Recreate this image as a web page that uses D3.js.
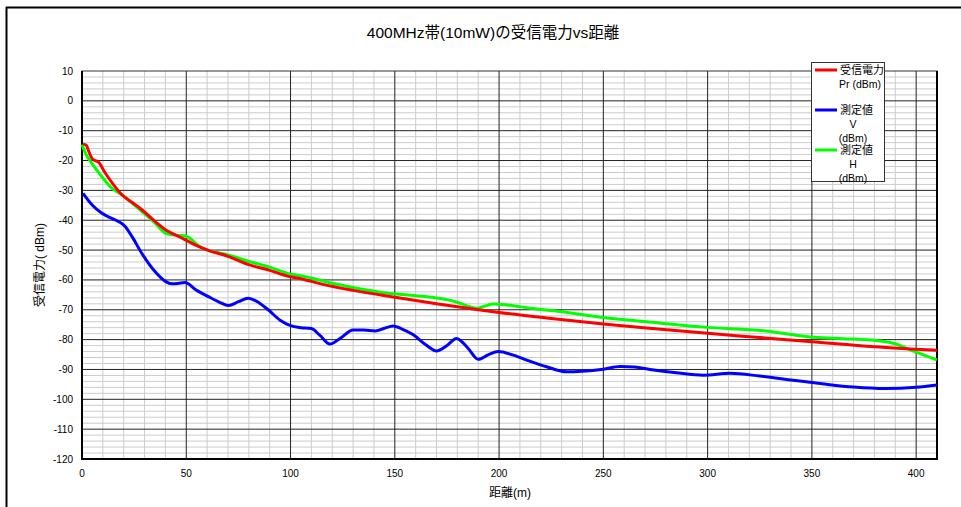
<!DOCTYPE html>
<html>
<head>
<meta charset="utf-8">
<script src="https://cdn.jsdelivr.net/npm/d3@7"></script>
<style>
  body { margin: 0; background: #fff; }
  text { font-family: "Liberation Sans", Arial, "Noto Sans CJK JP", sans-serif; fill: #000; }
</style>
</head>
<body>
<svg width="961" height="507"></svg>
<script>
const svg = d3.select("svg"),
      width = +svg.attr("width"),
      height = +svg.attr("height");

// distance (m) / level (dBm) pairs
const prDist = [0.5, 2, 3, 5, 8, 11, 15, 19, 24, 28.6, 35, 41, 45, 49.4, 55, 60.6, 70, 80, 90, 99, 105, 115, 130, 150, 170, 190, 200, 225, 250, 272, 300, 325, 350, 380, 400, 410];
const prVal  = [-14.5, -14.8, -16.5, -19.5, -20.6, -24, -28, -31.4, -34, -36.4, -40.4, -43.6, -45, -46.5, -48.5, -50.1, -52.1, -54.9, -56.8, -58.8, -59.6, -61.4, -63.5, -65.8, -68, -70, -70.9, -72.9, -74.8, -76.2, -77.9, -79.3, -80.7, -82.4, -83.2, -83.6];

const vDist = [0.5, 5, 9.4, 14, 17.4, 20.6, 24, 28.6, 35, 40, 43, 46, 49.4, 55, 60.6, 66, 70.2, 75, 79.7, 85, 89.3, 95, 100, 105, 110, 114, 118.9, 124, 130, 135, 140.7, 145, 149.3, 153, 158.9, 165, 170, 175, 179.6, 185, 190, 195, 199.6, 206.8, 215, 222.8, 232.4, 240, 250, 258, 265, 272.4, 285, 298, 310.9, 325, 341, 355, 370, 385, 400, 410];
const vVal  = [-31, -35, -37.6, -39.3, -40.4, -42, -45.5, -51, -57.2, -60.5, -61.3, -61.2, -60.9, -63.5, -65.6, -67.5, -68.6, -67.3, -66.1, -67.7, -70, -73.5, -75.3, -76, -76.3, -78.5, -81.5, -79.5, -76.8, -76.8, -77.1, -76.2, -75.4, -76.3, -78.4, -81.8, -83.8, -82, -79.6, -82.8, -86.6, -85, -84, -85.2, -87.3, -89.1, -90.8, -90.6, -89.9, -89, -89.2, -90, -91.1, -91.9, -91.3, -92.2, -93.6, -94.8, -95.9, -96.4, -96, -95.2];

const hDist = [0, 2, 4.6, 9.4, 14.2, 19, 24, 28.6, 35, 40, 45, 49.4, 52.6, 56, 60.6, 70, 80, 90, 99, 105, 120, 135, 146, 160, 168.7, 175, 181.3, 186, 189.3, 193, 197.3, 203.7, 215, 229.3, 250, 272, 300, 328, 341, 351, 365, 378, 389, 400, 410];
const hVal  = [-14.6, -18, -20.8, -25.3, -29.2, -31.4, -34.3, -37, -40.9, -44.3, -45, -45.2, -46.5, -48.6, -50.1, -51.6, -53.8, -55.7, -57.9, -58.6, -61.1, -63.2, -64.4, -65.3, -65.9, -66.6, -67.8, -69, -69.5, -68.8, -68.1, -68.4, -69.5, -70.6, -72.6, -74.1, -75.9, -77.1, -78.4, -79.2, -79.7, -80.1, -81.2, -84.2, -86.8];

const seriesNames = ["受信電力", "測定値", "測定値"];
const seriesSub = [["Pr (dBm)"], ["V", "(dBm)"], ["H", "(dBm)"]];
const seriesColors = ["#ff0000", "#0000ff", "#00ff00"];

const xTicks = [0, 50, 100, 150, 200, 250, 300, 350, 400];
const yTicks = [10, 0, -10, -20, -30, -40, -50, -60, -70, -80, -90, -100, -110, -120];

const pLeft = 82, pRight = 937, pTop = 71, pBottom = 459;

const x = d3.scaleLinear().domain([0, 410]).range([pLeft, pRight]);
const y = d3.scaleLinear().domain([-120, 10]).range([pBottom, pTop]);

// outer chart frame (only left and top show)
svg.append("line").attr("x1", 6.5).attr("x2", 6.5).attr("y1", 7).attr("y2", height)
  .attr("stroke", "#000").attr("stroke-width", 2);
svg.append("line").attr("x1", 6).attr("x2", width).attr("y1", 7.5).attr("y2", 7.5)
  .attr("stroke", "#000").attr("stroke-width", 2);

// minor grid
const g = svg.append("g");
g.selectAll(".vminor").data(d3.range(10, 410, 10).filter(d => d % 50))
  .enter().append("line")
  .attr("x1", d => x(d)).attr("x2", d => x(d)).attr("y1", pTop).attr("y2", pBottom)
  .attr("stroke", "#cccccc").attr("stroke-width", 1);
g.selectAll(".hminor").data(d3.range(-118, 10, 2).filter(d => d % 10))
  .enter().append("line")
  .attr("x1", pLeft).attr("x2", pRight).attr("y1", d => y(d)).attr("y2", d => y(d))
  .attr("stroke", "#cccccc").attr("stroke-width", 1);

// major grid
g.selectAll(".vmajor").data(xTicks.filter(d => d > 0))
  .enter().append("line")
  .attr("x1", d => x(d)).attr("x2", d => x(d)).attr("y1", pTop).attr("y2", pBottom)
  .attr("stroke", "#222").attr("stroke-width", 1);
g.selectAll(".hmajor").data(yTicks.filter(d => d > -120 && d < 10))
  .enter().append("line")
  .attr("x1", pLeft).attr("x2", pRight).attr("y1", d => y(d)).attr("y2", d => y(d))
  .attr("stroke", "#222").attr("stroke-width", 1);

// plot frame
svg.append("rect").attr("x", pLeft).attr("y", pTop).attr("width", pRight - pLeft).attr("height", pBottom - pTop)
  .attr("fill", "none").attr("stroke", "#333").attr("stroke-width", 1);
svg.append("path").attr("d", `M${pLeft},${pTop}V${pBottom}H${pRight}V${pTop}`)
  .attr("fill", "none").attr("stroke", "#000").attr("stroke-width", 2);

// tick labels
svg.selectAll(".xt").data(xTicks).enter().append("text")
  .attr("x", d => x(d)).attr("y", 477).attr("text-anchor", "middle")
  .attr("font-size", 10).text(d => d);
svg.selectAll(".yt").data(yTicks).enter().append("text")
  .attr("x", 73).attr("y", d => y(d) + 3.5).attr("text-anchor", "end")
  .attr("font-size", 10).text(d => d);

// titles
svg.append("text").attr("x", 493).attr("y", 38).attr("text-anchor", "middle")
  .attr("font-size", 15.5).text("400MHz帯(10mW)の受信電力vs距離");
svg.append("text").attr("x", 510).attr("y", 497).attr("text-anchor", "middle")
  .attr("font-size", 12).text("距離(m)");
svg.append("text").attr("transform", "translate(44,265) rotate(-90)").attr("text-anchor", "middle")
  .attr("font-size", 12).text("受信電力( dBm)");

// curves
const line = d3.line().x(d => x(d[0])).y(d => y(d[1])).curve(d3.curveMonotoneX);
const series = [d3.zip(prDist, prVal), d3.zip(vDist, vVal), d3.zip(hDist, hVal)];
const drawOrder = [1, 2, 0];
drawOrder.forEach(i => {
  svg.append("path").datum(series[i])
    .attr("d", line).attr("fill", "none")
    .attr("stroke", seriesColors[i]).attr("stroke-width", 3)
    .attr("stroke-linejoin", "round");
});

// legend
const lg = svg.append("g");
lg.append("rect").attr("x", 811.5).attr("y", 62.5).attr("width", 73).attr("height", 119)
  .attr("fill", "#fff").attr("stroke", "#333").attr("stroke-width", 1);
const legY = [70, 110, 150];
seriesColors.forEach((c, i) => {
  lg.append("line").attr("x1", 815).attr("x2", 837).attr("y1", legY[i]).attr("y2", legY[i])
    .attr("stroke", c).attr("stroke-width", 3);
  lg.append("text").attr("x", 840).attr("y", legY[i] + 4).attr("font-size", 11)
    .text(seriesNames[i]);
  seriesSub[i].forEach((s, j) => {
    lg.append("text").attr("x", i === 0 ? 860 : 853).attr("y", legY[i] + 18 + j * 13.5)
      .attr("text-anchor", "middle").attr("font-size", 10.5).text(s);
  });
});
</script>
</body>
</html>
